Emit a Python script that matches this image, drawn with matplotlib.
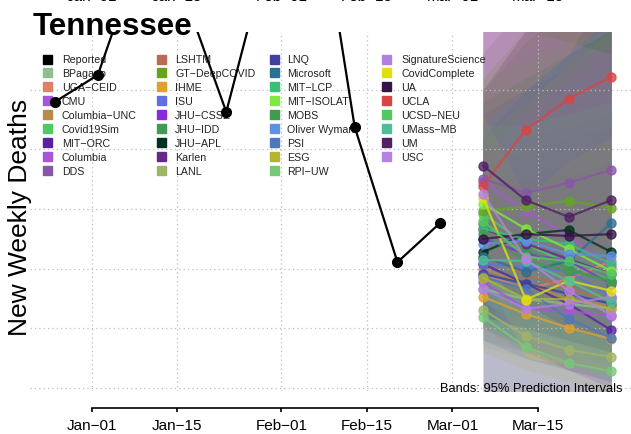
import numpy as np
import matplotlib
matplotlib.use("Agg")
import matplotlib.pyplot as plt
import matplotlib.dates as mdates
from matplotlib.patches import Rectangle
from matplotlib.transforms import blended_transform_factory

plt.rcParams['font.family'] = ['Liberation Sans', 'DejaVu Sans']

# ---------------------------------------------------------------- data
rep_dates = np.array(['2020-12-26', '2021-01-02', '2021-01-09', '2021-01-16', '2021-01-23',
                      '2021-01-30', '2021-02-06', '2021-02-13', '2021-02-20', '2021-02-27'],
                     dtype='datetime64[D]')
rep_vals = [580, 625, 832, 763, 563, 838, 993, 538, 311, 377]

fc_dates = np.array(['2021-03-06', '2021-03-13', '2021-03-20', '2021-03-27'], dtype='datetime64[D]')

models = ['BPagano', 'UGA\u2212CEID', 'CMU', 'Columbia\u2212UNC', 'Covid19Sim', 'MIT\u2212ORC',
          'Columbia', 'DDS', 'LSHTM', 'GT\u2212DeepCOVID', 'IHME', 'ISU', 'JHU\u2212CSSE',
          'JHU\u2212IDD', 'JHU\u2212APL', 'Karlen', 'LANL', 'LNQ', 'Microsoft', 'MIT\u2212LCP',
          'MIT\u2212ISOLAT', 'MOBS', 'Oliver Wyman', 'PSI', 'ESG', 'RPI\u2212UW',
          'SignatureScience', 'CovidComplete', 'UA', 'UCLA', 'UCSD\u2212NEU', 'UMass\u2212MB',
          'UM', 'USC']
colors = ['#8fbf8f', '#e0806a', '#a855d8', '#b88a4c', '#52c862', '#5a22a0',
          '#a855d8', '#8a55a8', '#b86c55', '#66a420', '#e0a030', '#6070e0', '#8a28e0',
          '#429a50', '#00331f', '#682888', '#a0b468', '#4040a0', '#2a7090', '#38c078',
          '#80e840', '#429a50', '#6090e0', '#5078b8', '#b4b430', '#78c878',
          '#b080e0', '#e0e010', '#351545', '#d84444', '#52c862', '#50bc98',
          '#522065', '#b880e0']

med = [[266, 249, 241, 233], [291, 266, 283, 313], [446, 397, 355, 303], [300, 275, 249, 238],
       [392, 342, 308, 280], [308, 275, 241, 197], [278, 233, 229, 221], [451, 427, 444, 466],
       [320, 291, 266, 249], [397, 404, 414, 402], [253, 224, 201, 182], [308, 303, 296, 253],
       [350, 325, 313, 275], [375, 333, 300, 278], [328, 358, 365, 328], [367, 342, 316, 291],
       [231, 187, 164, 152], [291, 275, 258, 241], [320, 295, 313, 377], [367, 350, 342, 308],
       [409, 367, 333, 296], [358, 313, 296, 280], [342, 347, 325, 321], [286, 266, 216, 184],
       [285, 249, 249, 233], [219, 169, 142, 128], [266, 233, 241, 253], [419, 248, 280, 263],
       [350, 358, 355, 358], [439, 533, 585, 622], [380, 320, 313, 291], [315, 313, 280, 244],
       [473, 415, 387, 415], [426, 316, 263, 222]]
lo = [[170, 150, 130, 115], [200, 170, 150, 140], [300, 240, 190, 140], [200, 170, 140, 120],
      [280, 220, 180, 150], [210, 170, 130, 100], [90, 80, 70, 60], [300, 260, 240, 230],
      [200, 170, 140, 120], [260, 240, 220, 200], [190, 160, 130, 110], [180, 160, 140, 120],
      [240, 200, 170, 140], [200, 160, 130, 110], [230, 220, 200, 170], [250, 220, 180, 150],
      [90, 80, 70, 60], [180, 150, 130, 110], [220, 190, 170, 180], [240, 210, 180, 150],
      [280, 230, 190, 150], [210, 170, 140, 120], [240, 220, 190, 170], [90, 80, 70, 60],
      [160, 130, 110, 90], [80, 70, 60, 50], [90, 80, 70, 60], [300, 150, 140, 120],
      [220, 200, 180, 160], [300, 330, 330, 330], [250, 190, 160, 130], [200, 170, 140, 110],
      [300, 240, 200, 180], [250, 170, 130, 100]]
hi = [[400, 420, 450, 480], [420, 440, 480, 540], [720, 760, 800, 850], [440, 450, 460, 470],
      [580, 620, 660, 700], [440, 440, 430, 420], [460, 480, 520, 560], [740, 800, 880, 950],
      [480, 500, 520, 540], [620, 700, 780, 860], [330, 320, 310, 300], [540, 600, 660, 720],
      [500, 520, 540, 560], [660, 740, 820, 900], [520, 600, 660, 700], [560, 600, 640, 680],
      [340, 320, 310, 300], [440, 460, 480, 500], [520, 580, 660, 780], [580, 620, 660, 700],
      [620, 650, 680, 700], [600, 680, 740, 800], [540, 600, 660, 720], [460, 500, 520, 540],
      [520, 580, 640, 700], [360, 340, 320, 310], [500, 560, 620, 680], [560, 420, 480, 520],
      [600, 700, 780, 860], [720, 860, 960, 1080], [540, 540, 560, 580], [540, 600, 660, 720],
      [760, 820, 880, 960], [720, 700, 680, 660]]

tick_dates = np.array(['2021-01-01', '2021-01-15', '2021-02-01', '2021-02-15',
                       '2021-03-01', '2021-03-15'], dtype='datetime64[D]')
tick_labels = ['Jan\u221201', 'Jan\u221215', 'Feb\u221201', 'Feb\u221215', 'Mar\u221201', 'Mar\u221215']
grid_y = [100, 200, 300, 400, 500, 600]

# ---------------------------------------------------------------- figure
W, H = 631, 435
fig = plt.figure(figsize=(W / 100, H / 100), dpi=100)
ax = fig.add_axes([30 / W, 43 / H, 601 / W, 359 / H])
ax.patch.set_alpha(0)

xr = mdates.date2num(rep_dates)
xf = mdates.date2num(fc_dates)
tx = mdates.date2num(tick_dates)
x0 = tx[0]
ax.set_xlim(x0 - 10.1, x0 + 88.2)
ax.set_ylim(95, 697)

# prediction bands
for c, l, h in zip(colors, lo, hi):
    ax.fill_between(xf, l, h, color=c, alpha=0.17, lw=0, zorder=1)

# grid
for y in grid_y:
    ax.axhline(y, color='#bdbdbd', ls=(0, (1, 2.5)), lw=0.9, zorder=2)
for t in tx:
    ax.axvline(t, color='#bdbdbd', ls=(0, (1, 2.5)), lw=0.9, zorder=2)

# forecasts
for c, m in zip(colors, med):
    ax.plot(xf, m, '-o', color=c, lw=1.6, ms=6.5, alpha=0.8, zorder=4)

# reported
ax.plot(xr, rep_vals, '-o', color='black', lw=1.6, ms=7, zorder=6)

# axes decoration
for s in ['left', 'right', 'top']:
    ax.spines[s].set_visible(False)
ax.spines['bottom'].set_position(('outward', 12.2))
ax.spines['bottom'].set_bounds(tx[0], tx[-1])
ax.spines['bottom'].set_linewidth(1.2)
ax.set_xticks(tx)
ax.set_xticklabels(tick_labels, fontsize=11)
ax.tick_params(axis='x', length=3, width=1.2, pad=4)
ax.set_yticks([])

# top tick labels (cut off at figure edge)
tr = blended_transform_factory(ax.transData, fig.transFigure)
for t, lab in zip(tx, tick_labels):
    ax.text(t, 1 - 1 / H, lab, transform=tr, ha='center', va='baseline',
            fontsize=11, clip_on=False)

# legend
sq_x = [47.5, 161, 274, 386]
txt_x = [62, 175, 287, 401]
names = ['Reported'] + models
cols = ['black'] + colors
for i, (name, col) in enumerate(zip(names, cols)):
    cc, r = divmod(i, 9)
    ypx = 60 + 13.95 * r
    ax.add_patch(Rectangle(((sq_x[cc] - 4.5) / W, 1 - (ypx + 4.5) / H), 9 / W, 9 / H,
                           transform=fig.transFigure, color=col, zorder=3, clip_on=False))
    ax.text(txt_x[cc] / W, 1 - ypx / H, name, transform=fig.transFigure, fontsize=7.7,
            va='center', ha='left', color='#222222', zorder=3)

fig.text(33 / W, 1 - 35 / H, 'Tennessee', fontsize=22.5, fontweight='bold', va='baseline')
fig.text(20 / W, 1 - 217 / H, 'New Weekly Deaths', rotation=90, fontsize=19,
         va='center', ha='center')
ax.text(623 / W, 1 - 389 / H, 'Bands: 95% Prediction Intervals', transform=fig.transFigure,
        fontsize=9.3, ha='right', va='center', zorder=7)

fig.savefig('out.png', dpi=100)
